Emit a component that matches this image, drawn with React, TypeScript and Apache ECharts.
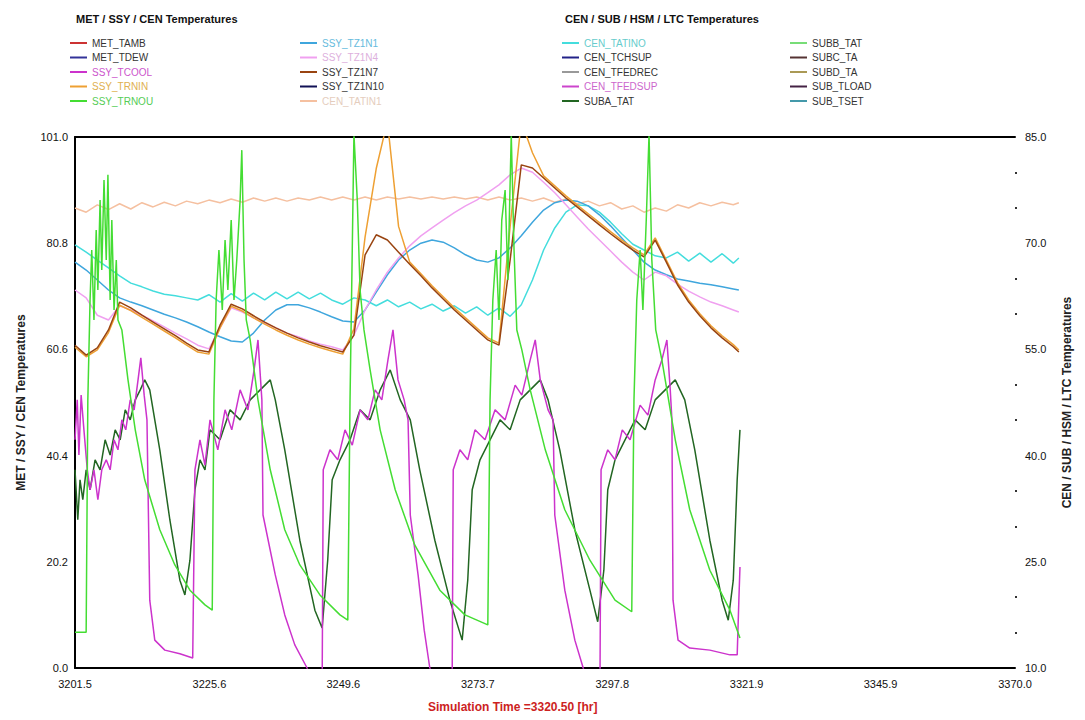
import React, { useEffect, useRef } from "react";
import * as echarts from "echarts";

// ---- axes ----
const X_MIN = 3201.5;
const X_MAX = 3370.0;
const X_TICKS = [3201.5, 3225.6, 3249.6, 3273.7, 3297.8, 3321.9, 3345.9, 3370.0];
const Y_LEFT_MIN = 0;
const Y_LEFT_MAX = 101;
const Y_LEFT_STEP = 20.2;
const Y_RIGHT_MIN = 10;
const Y_RIGHT_MAX = 85;
const Y_RIGHT_TICKS = [10, 25, 40, 55, 70, 85];
const Y_RIGHT_MINOR = [15, 20, 30, 35, 45, 50, 60, 65, 75, 80];

// ---- common 2-hour time grid ----
const T2 = [
  3201.5, 3203.5, 3205.5, 3207.5, 3209.5, 3211.5, 3213.5, 3215.5, 3217.5, 3219.5,
  3221.5, 3223.5, 3225.5, 3227.5, 3229.5, 3231.5, 3233.5, 3235.5, 3237.5, 3239.5,
  3241.5, 3243.5, 3245.5, 3247.5, 3249.5, 3251.5, 3253.5, 3255.5, 3257.5, 3259.5,
  3261.5, 3263.5, 3265.5, 3267.5, 3269.5, 3271.5, 3273.5, 3275.5, 3277.5, 3279.5,
  3281.5, 3283.5, 3285.5, 3287.5, 3289.5, 3291.5, 3293.5, 3295.5, 3297.5, 3299.5,
  3301.5, 3303.5, 3305.5, 3307.5, 3309.5, 3311.5, 3313.5, 3315.5, 3317.5, 3319.5,
  3320.5,
];

const cenTatin1 = [
  87.5, 86.7, 88.1, 87.2, 88.3, 87.3, 88.5, 87.7, 88.6, 87.9,
  88.8, 88.3, 89.0, 88.5, 89.2, 88.6, 89.4, 88.8, 89.4, 88.8,
  89.4, 89.0, 89.6, 89.0, 89.6, 89.0, 89.6, 89.0, 89.6, 89.2,
  89.6, 89.2, 89.6, 89.2, 89.6, 89.2, 89.6, 89.0, 89.6, 89.0,
  89.4, 88.8, 89.4, 88.6, 89.2, 88.3, 88.8, 87.9, 88.5, 87.3,
  87.9, 86.7, 87.5, 86.9, 88.1, 87.5, 88.5, 87.9, 88.6, 88.1,
  88.5,
];
const cenTatino = [
  80.5, 79.1, 77.6, 76.1, 74.6, 73.2, 72.5, 71.7, 71.1, 70.8,
  70.4, 70.0, 71.0, 69.6, 71.2, 69.8, 71.3, 70.0, 71.5, 70.2,
  71.5, 70.2, 71.3, 70.0, 69.2, 70.4, 70.0, 68.9, 70.0, 68.7,
  69.6, 68.3, 69.2, 67.9, 68.9, 67.5, 68.7, 67.1, 68.5, 66.9,
  69.1, 73.8, 79.5, 83.7, 86.7, 88.1, 87.9, 86.7, 84.8, 82.6,
  80.6, 79.5, 78.4, 78.0, 79.1, 77.4, 78.9, 77.2, 78.8, 77.0,
  78.0,
];
const ssyTz1n1 = [
  77.2, 75.7, 73.8, 71.9, 70.4, 69.6, 68.9, 68.1, 67.3, 66.6,
  65.8, 64.9, 63.9, 63.0, 62.2, 62.0, 63.7, 66.2, 68.1, 69.1,
  69.1, 68.5, 67.7, 66.8, 66.0, 65.8, 68.1, 71.5, 74.8, 77.6,
  79.5, 80.8, 81.4, 81.0, 79.9, 78.6, 77.6, 77.2, 78.0, 79.9,
  82.2, 84.8, 87.1, 88.5, 89.0, 88.8, 87.9, 86.2, 84.1, 81.8,
  79.5, 77.2, 75.7, 74.8, 74.0, 73.6, 73.2, 72.9, 72.5, 72.1,
  71.9,
];
const ssyTz1n4 = [
  71.9, 70.4, 67.1, 66.2, 68.9, 68.1, 67.1, 66.0, 64.9, 63.7,
  62.6, 61.4, 60.7, 64.7, 68.5, 67.7, 66.6, 65.6, 64.7, 63.7,
  63.0, 62.2, 61.6, 61.1, 60.5, 63.3, 68.1, 71.9, 75.3, 78.0,
  80.3, 82.2, 83.7, 85.2, 86.6, 87.9, 89.0, 90.4, 91.9, 93.8,
  95.1, 94.3, 92.4, 90.4, 88.1, 85.8, 83.5, 81.4, 79.3, 77.2,
  75.3, 73.8, 75.3, 74.6, 73.0, 71.7, 70.6, 69.6, 68.9, 68.1,
  67.7,
];
const ssyTz1n7 = [
  61.4, 59.5, 60.9, 64.3, 69.6, 68.5, 67.1, 65.8, 64.5, 63.2,
  61.8, 60.5, 60.1, 65.2, 69.2, 68.3, 67.0, 65.8, 64.7, 63.7,
  62.8, 62.0, 61.3, 60.7, 60.1, 63.3, 78.6, 82.4, 81.4, 79.1,
  76.8, 74.6, 72.3, 70.2, 68.1, 66.2, 64.3, 62.4, 61.4, 77.6,
  95.7, 95.1, 93.2, 91.3, 89.4, 87.7, 86.0, 84.3, 82.6, 81.0,
  79.5, 78.2, 81.4, 77.2, 72.9, 69.6, 67.0, 64.7, 62.8, 61.1,
  60.1,
];
const ssyTrnin = [
  61.0, 59.2, 60.5, 63.8, 69.0, 68.0, 66.7, 65.4, 64.1, 62.8,
  61.4, 60.1, 59.7, 64.7, 68.8, 67.9, 66.6, 65.4, 64.3, 63.3,
  62.4, 61.6, 60.9, 60.3, 59.7, 64.5, 82.0, 95.0, 104.0, 84.0,
  77.2, 75.0, 72.7, 70.6, 68.5, 66.6, 64.7, 62.8, 61.8, 84.0,
  104.0, 98.0, 93.6, 91.7, 89.8, 88.1, 86.4, 84.7, 83.0, 81.4,
  79.9, 78.6, 81.8, 77.6, 73.3, 70.0, 67.4, 65.1, 63.2, 61.5,
  60.5,
];

// ---- irregularly sampled series [time, value] ----
const ssyTrnou: [number, number][] = [
  [3201.5, 6.8], [3203.5, 6.8], [3203.8, 51.0], [3204.2, 70.0], [3204.5, 79.5], [3204.9, 66.2],
  [3205.3, 83.3], [3205.6, 71.9], [3206.0, 89.0], [3206.3, 75.7], [3206.7, 92.8], [3207.1, 77.6],
  [3207.4, 93.8], [3207.8, 70.0], [3208.1, 85.2], [3208.5, 68.1], [3208.9, 77.6], [3209.2, 66.2],
  [3209.9, 64.3], [3211.0, 54.8], [3212.3, 45.3], [3214.0, 35.8], [3216.7, 26.3], [3219.4, 19.6],
  [3222.1, 14.8], [3224.8, 12.0], [3226.1, 11.0], [3226.4, 51.0], [3226.8, 70.0], [3227.3, 79.5],
  [3227.9, 68.1], [3228.4, 81.4], [3228.9, 71.9], [3229.5, 85.2], [3230.0, 70.0], [3230.5, 77.6],
  [3231.1, 89.0], [3231.4, 98.5], [3231.8, 77.6], [3232.2, 66.2], [3232.9, 62.4], [3234.3, 51.0],
  [3236.5, 37.7], [3239.1, 26.3], [3241.8, 19.6], [3245.4, 13.9], [3249.0, 10.1], [3250.4, 9.1],
  [3250.8, 51.0], [3251.2, 79.5], [3251.5, 101.5], [3252.1, 89.0], [3252.6, 71.9], [3253.3, 64.3],
  [3254.4, 56.7], [3256.2, 45.3], [3258.9, 33.9], [3262.4, 23.4], [3266.9, 14.8], [3271.4, 10.1],
  [3275.5, 8.2], [3275.9, 51.0], [3276.4, 70.0], [3277.0, 79.5], [3277.5, 66.2], [3278.0, 85.2],
  [3278.6, 90.9], [3279.1, 73.8], [3279.7, 101.5], [3280.2, 79.5], [3280.7, 64.3], [3281.6, 60.5],
  [3283.1, 52.9], [3285.8, 41.5], [3289.3, 30.1], [3293.8, 20.5], [3298.3, 12.9], [3301.3, 10.7],
  [3301.7, 51.0], [3302.2, 70.0], [3302.8, 79.5], [3303.3, 68.1], [3303.9, 85.2], [3304.4, 101.5],
  [3304.9, 77.6], [3305.6, 64.3], [3306.7, 58.6], [3309.1, 43.4], [3311.7, 30.1], [3315.3, 18.6],
  [3318.9, 11.0], [3320.7, 5.7],
];

const ssyTcool: [number, number][] = [
  [3201.5, 43.4], [3201.9, 51.0], [3202.2, 40.5], [3202.6, 51.9], [3203.1, 45.3], [3203.7, 37.7],
  [3204.2, 33.9], [3204.9, 37.7], [3205.6, 32.0], [3206.3, 37.7], [3207.1, 39.6], [3207.8, 37.7],
  [3208.5, 43.4], [3209.2, 41.5], [3209.9, 47.2], [3210.6, 45.3], [3211.4, 51.0], [3212.1, 49.1],
  [3212.8, 54.8], [3213.3, 59.0], [3213.9, 51.9], [3214.4, 47.2], [3214.9, 12.9], [3215.8, 5.3],
  [3217.6, 3.4], [3220.3, 2.7], [3222.6, 1.9], [3223.0, 37.7], [3223.9, 43.4], [3224.8, 38.6],
  [3225.7, 47.2], [3227.1, 41.5], [3228.4, 49.1], [3229.6, 45.3], [3231.1, 52.9], [3232.5, 49.1],
  [3233.6, 56.7], [3234.3, 62.4], [3235.0, 51.0], [3235.2, 29.1], [3237.4, 17.7], [3239.1, 10.1],
  [3240.9, 4.4], [3243.1, 0.0], [3244.5, -4.0], [3245.8, -4.0], [3246.0, 37.7], [3247.2, 41.5],
  [3248.6, 39.6], [3249.9, 45.3], [3251.2, 42.4], [3252.6, 49.1], [3254.0, 47.2], [3255.3, 52.9],
  [3256.5, 51.0], [3257.6, 58.6], [3258.5, 64.3], [3259.4, 54.8], [3260.5, 51.0], [3261.2, 47.2],
  [3261.6, 29.1], [3263.0, 17.7], [3264.1, 7.2], [3265.1, 0.0], [3266.9, -4.0], [3269.1, -4.0],
  [3269.3, 37.7], [3270.5, 41.5], [3271.9, 39.6], [3273.2, 45.3], [3275.0, 43.4], [3276.8, 49.1],
  [3278.6, 47.2], [3280.4, 53.8], [3281.6, 51.9], [3283.1, 58.6], [3284.0, 62.4], [3284.9, 54.8],
  [3286.3, 49.1], [3287.2, 47.2], [3287.5, 29.1], [3289.3, 14.8], [3291.1, 5.3], [3292.6, 0.0],
  [3293.8, -4.0], [3295.6, -4.0], [3295.8, 37.7], [3297.0, 41.5], [3298.3, 39.6], [3299.6, 45.3],
  [3301.0, 43.4], [3302.8, 50.0], [3304.2, 48.1], [3305.5, 54.8], [3306.7, 58.6], [3307.6, 62.4],
  [3308.2, 52.9], [3308.5, 47.2], [3308.7, 12.9], [3309.6, 5.3], [3311.7, 3.8], [3315.3, 3.4],
  [3318.9, 2.5], [3320.2, 2.5], [3320.5, 12.9], [3320.7, 19.2],
];

const subaTat: [number, number][] = [
  [3201.5, 37.7], [3202.0, 28.2], [3202.4, 35.8], [3202.9, 32.0], [3203.5, 37.7], [3204.2, 33.9],
  [3205.1, 39.6], [3206.0, 37.7], [3206.9, 43.4], [3207.8, 40.5], [3208.7, 45.3], [3209.6, 43.4],
  [3210.5, 49.1], [3211.4, 47.2], [3212.3, 51.0], [3213.2, 52.9], [3214.0, 54.8], [3214.9, 52.9],
  [3216.7, 41.5], [3218.5, 28.2], [3220.3, 16.7], [3221.2, 13.9], [3222.1, 20.5], [3223.0, 33.9],
  [3223.9, 39.6], [3224.8, 37.7], [3225.7, 45.3], [3227.5, 43.4], [3229.3, 49.1], [3231.1, 47.2],
  [3232.9, 51.0], [3234.7, 52.9], [3236.5, 54.8], [3237.4, 51.0], [3239.1, 41.5], [3241.8, 24.3],
  [3244.5, 11.0], [3245.8, 7.6], [3246.8, 20.5], [3247.6, 35.8], [3249.0, 39.6], [3250.8, 43.4],
  [3252.6, 49.1], [3254.4, 47.2], [3256.2, 52.9], [3258.0, 56.7], [3259.8, 51.0], [3261.6, 47.2],
  [3263.3, 37.7], [3266.0, 24.3], [3268.7, 12.9], [3270.9, 5.3], [3271.9, 16.7], [3272.7, 33.9],
  [3274.1, 39.6], [3275.9, 43.4], [3277.7, 47.2], [3279.5, 45.3], [3281.3, 51.0], [3283.1, 52.9],
  [3284.9, 54.8], [3286.3, 51.0], [3288.4, 41.5], [3291.1, 26.3], [3293.8, 14.8], [3295.2, 8.8],
  [3296.3, 18.6], [3297.0, 33.9], [3298.3, 39.6], [3300.1, 43.4], [3301.9, 47.2], [3303.7, 45.3],
  [3305.5, 51.0], [3307.3, 52.9], [3309.1, 54.8], [3310.8, 51.0], [3312.6, 41.5], [3315.3, 24.3],
  [3317.5, 12.9], [3318.6, 9.1], [3319.5, 16.7], [3320.2, 35.8], [3320.7, 45.3],
];

// ---- legend columns ----
const LEGEND_COL1 = ["MET_TAMB", "MET_TDEW", "SSY_TCOOL", "SSY_TRNIN", "SSY_TRNOU"];
const LEGEND_COL2 = ["SSY_TZ1N1", "SSY_TZ1N4", "SSY_TZ1N7", "SSY_TZ1N10", "CEN_TATIN1"];
const LEGEND_COL3 = ["CEN_TATINO", "CEN_TCHSUP", "CEN_TFEDREC", "CEN_TFEDSUP", "SUBA_TAT"];
const LEGEND_COL4 = ["SUBB_TAT", "SUBC_TA", "SUBD_TA", "SUB_TLOAD", "SUB_TSET"];

const LINE_COLORS: Record<string, string> = {
  MET_TAMB: "#cc3333", MET_TDEW: "#333399", SSY_TCOOL: "#cc33cc", SSY_TRNIN: "#eea033",
  SSY_TRNOU: "#44dd33", SSY_TZ1N1: "#3fa6dd", SSY_TZ1N4: "#f0a0f0", SSY_TZ1N7: "#994411",
  SSY_TZ1N10: "#111155", CEN_TATIN1: "#f5c0a0", CEN_TATINO: "#44dddd", CEN_TCHSUP: "#222288",
  CEN_TFEDREC: "#999999", CEN_TFEDSUP: "#cc44cc", SUBA_TAT: "#226622", SUBB_TAT: "#77dd77",
  SUBC_TA: "#553333", SUBD_TA: "#aa9955", SUB_TLOAD: "#442244", SUB_TSET: "#4499aa",
};
const TEXT_COLORS: Record<string, string> = {
  MET_TAMB: "#333333", MET_TDEW: "#333333", SSY_TCOOL: "#cc55cc", SSY_TRNIN: "#e0b050",
  SSY_TRNOU: "#55cc55", SSY_TZ1N1: "#66bbdd", SSY_TZ1N4: "#ddb0dd", SSY_TZ1N7: "#333333",
  SSY_TZ1N10: "#333333", CEN_TATIN1: "#e5cdbd", CEN_TATINO: "#66cccc", CEN_TCHSUP: "#333333",
  CEN_TFEDREC: "#333333", CEN_TFEDSUP: "#cc66cc", SUBA_TAT: "#333333", SUBB_TAT: "#333333",
  SUBC_TA: "#333333", SUBD_TA: "#333333", SUB_TLOAD: "#333333", SUB_TSET: "#333333",
};

const zip = (ts: number[], vs: number[]) => vs.map((v, i) => [ts[i], v]);

const SERIES_DATA: Record<string, number[][]> = {
  SSY_TCOOL: ssyTcool,
  SSY_TRNIN: zip(T2, ssyTrnin),
  SSY_TRNOU: ssyTrnou,
  SSY_TZ1N1: zip(T2, ssyTz1n1),
  SSY_TZ1N4: zip(T2, ssyTz1n4),
  SSY_TZ1N7: zip(T2, ssyTz1n7),
  CEN_TATIN1: zip(T2, cenTatin1),
  CEN_TATINO: zip(T2, cenTatino),
  SUBA_TAT: subaTat,
};

const Z_ORDER: Record<string, number> = {
  CEN_TATIN1: 1, CEN_TATINO: 2, SSY_TZ1N1: 3, SSY_TZ1N4: 4, SSY_TRNIN: 5, SSY_TZ1N7: 6,
  SUBA_TAT: 7, SSY_TCOOL: 8, SSY_TRNOU: 9,
};

const FONT = "Liberation Sans, Arial, sans-serif";

export default function App() {
  const ref = useRef<HTMLDivElement>(null);

  useEffect(() => {
    document.body.style.margin = "0";
    const chart = echarts.init(ref.current!, null, { renderer: "svg" });

    const allNames = [...LEGEND_COL1, ...LEGEND_COL2, ...LEGEND_COL3, ...LEGEND_COL4];
    const series = allNames.map((name) => ({
      name,
      type: "line",
      xAxisIndex: 0,
      yAxisIndex: 0,
      data: SERIES_DATA[name] || [],
      showSymbol: false,
      symbol: "none",
      z: 2 + (Z_ORDER[name] || 0),
      lineStyle: { color: LINE_COLORS[name], width: 1.5 },
      itemStyle: { color: LINE_COLORS[name] },
      clip: true,
    }));

    const mkLegend = (names: string[], left: number) => ({
      orient: "vertical",
      left,
      top: 37,
      itemWidth: 17,
      itemHeight: 2,
      itemGap: 2.5,
      icon: "rect",
      selectedMode: false,
      padding: 0,
      textStyle: { fontSize: 10, fontFamily: FONT, lineHeight: 12 },
      data: names.map((n) => ({ name: n, textStyle: { color: TEXT_COLORS[n] } })),
    });

    chart.setOption({
      animation: false,
      backgroundColor: "#ffffff",
      title: [
        {
          text: "MET / SSY / CEN Temperatures",
          left: 76,
          top: 13,
          padding: 0,
          textStyle: { fontSize: 11, fontWeight: "bold", color: "#111", fontFamily: FONT },
        },
        {
          text: "CEN / SUB / HSM / LTC Temperatures",
          left: 565,
          top: 13,
          padding: 0,
          textStyle: { fontSize: 11, fontWeight: "bold", color: "#111", fontFamily: FONT },
        },
      ],
      legend: [
        mkLegend(LEGEND_COL1, 70),
        mkLegend(LEGEND_COL2, 300),
        mkLegend(LEGEND_COL3, 562),
        mkLegend(LEGEND_COL4, 790),
      ],
      grid: { left: 75, right: 70, top: 137, bottom: 52, containLabel: false },
      xAxis: [
        {
          type: "value",
          min: X_MIN,
          max: X_MAX,
          position: "bottom",
          axisLine: { show: true, lineStyle: { color: "#000", width: 2 } },
          axisTick: { show: false },
          splitLine: { show: false },
          axisLabel: {
            customValues: X_TICKS,
            formatter: (v: number) => v.toFixed(1),
            color: "#111",
            fontSize: 11,
            fontFamily: FONT,
            margin: 10,
          },
        },
        {
          type: "value",
          min: X_MIN,
          max: X_MAX,
          position: "top",
          axisLine: { show: true, lineStyle: { color: "#000", width: 2 } },
          axisTick: { show: false },
          splitLine: { show: false },
          axisLabel: { show: false },
        },
      ],
      yAxis: [
        {
          type: "value",
          min: Y_LEFT_MIN,
          max: Y_LEFT_MAX,
          interval: Y_LEFT_STEP,
          position: "left",
          name: "MET / SSY / CEN Temperatures",
          nameLocation: "middle",
          nameRotate: 90,
          nameGap: 48,
          nameTextStyle: { fontSize: 12, fontWeight: "bold", color: "#222", fontFamily: FONT },
          axisLine: { show: true, lineStyle: { color: "#000", width: 2 } },
          axisTick: { show: false },
          splitLine: { show: false },
          axisLabel: {
            formatter: (v: number) => v.toFixed(1),
            color: "#111",
            fontSize: 11,
            fontFamily: FONT,
            margin: 7,
          },
        },
        {
          type: "value",
          min: Y_RIGHT_MIN,
          max: Y_RIGHT_MAX,
          position: "right",
          name: "CEN / SUB / HSM / LTC Temperatures",
          nameLocation: "middle",
          nameRotate: 90,
          nameGap: 46,
          nameTextStyle: { fontSize: 12, fontWeight: "bold", color: "#222", fontFamily: FONT },
          axisLine: { show: false },
          axisTick: {
            show: true,
            customValues: Y_RIGHT_MINOR,
            length: 2,
            lineStyle: { color: "#333", width: 2 },
          },
          splitLine: { show: false },
          axisLabel: {
            customValues: Y_RIGHT_TICKS,
            formatter: (v: number) => v.toFixed(1),
            color: "#111",
            fontSize: 11,
            fontFamily: FONT,
            margin: 10,
          },
        },
      ],
      graphic: [
        {
          type: "text",
          left: 428,
          top: 701,
          style: {
            text: "Simulation Time =3320.50 [hr]",
            fill: "#cc2222",
            font: `bold 12px ${FONT}`,
          },
        },
      ],
      series,
    });

    return () => chart.dispose();
  }, []);

  return (
    <div
      ref={ref}
      style={{ position: "absolute", left: 0, top: 0, width: 1085, height: 720 }}
    />
  );
}
